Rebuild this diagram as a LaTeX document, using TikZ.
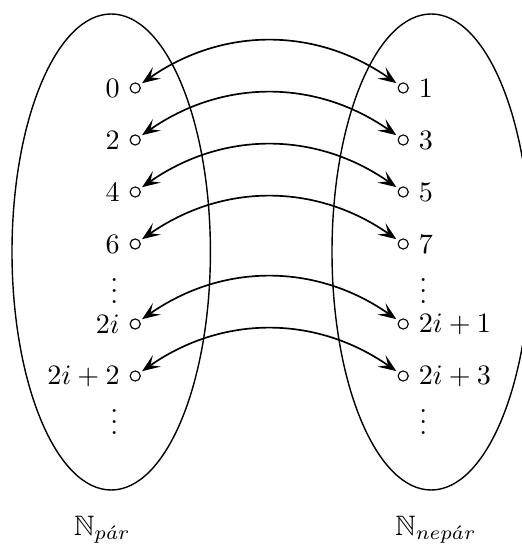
\documentclass[tikz,border=0pt]{standalone}
\usepackage{amssymb}
\usetikzlibrary{arrows.meta}
\begin{document}
\begin{tikzpicture}[
        x=1cm, y=1cm,
        pnt/.style ={draw, circle, minimum size=3.6pt, inner sep=0pt, line width=0.4pt},
        dts/.style ={inner sep=0pt},
        arr/.style ={{Stealth[length=6.4pt, width=5pt, inset=2.8pt]}-{Stealth[length=6.4pt, width=5pt, inset=2.8pt]},
                     line width=0.6pt, shorten <=1pt, shorten >=1pt},
    ]
    \useasboundingbox (-1.39,-3.70) rectangle (5.125,3.15);

    %% The two sets
    \draw[line width=0.5pt] (0,0) ellipse (1.24cm and 2.975cm);
    \draw[line width=0.5pt] (4,0) ellipse (1.24cm and 2.975cm);

    %% Even numbers (left)
    \foreach \n/\y/\lab in {0/2.05/0, 1/1.4/2, 2/0.75/4, 3/0.1/6, 4/-0.9/2i, 5/-1.55/2i+2}
        \node[pnt, label={left:$\lab$}] (e\n) at (0.3,\y) {};

    %% Odd numbers (right)
    \foreach \n/\y/\lab in {0/2.05/1, 1/1.4/3, 2/0.75/5, 3/0.1/7, 4/-0.9/2i+1, 5/-1.55/2i+3}
        \node[pnt, label={right:$\lab$}] (o\n) at (3.65,\y) {};

    %% Dots
    \node[dts] (ed1) at (0.04,-0.38) {$\vdots$};
    \node[dts] (ed2) at (0.04,-2.02) {$\vdots$};
    \node[dts] (od1) at (3.9,-0.38)  {$\vdots$};
    \node[dts] (od2) at (3.9,-2.02)  {$\vdots$};

    %% Bijection
    \foreach \n in {0,...,5}
        \draw[arr] (e\n) to[bend left=35] (o\n);

    %% Set names
    \node (npar)   at (-0.11,-3.47) {$\mathbb{N}_{p\acute{a}r}$};
    \node (nnepar) at (4.06,-3.47)  {$\mathbb{N}_{nep\acute{a}r}$};

\end{tikzpicture}
\end{document}
